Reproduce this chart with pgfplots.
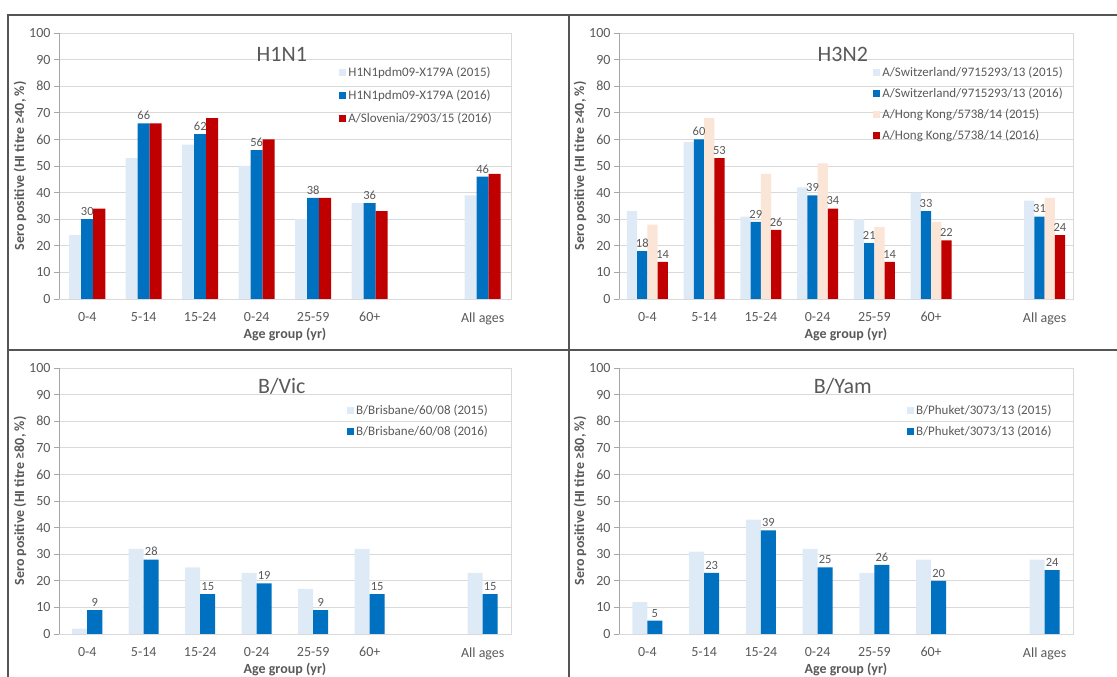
\documentclass[border=0pt]{standalone}
\usepackage{fontspec}
\setmainfont{Carlito}
\usepackage{pgfplots}
\pgfplotsset{compat=1.18}
\definecolor{lb}{HTML}{DEEBF7}
\definecolor{db}{HTML}{0070C0}
\definecolor{rd}{HTML}{C00000}
\definecolor{pc}{HTML}{FBE5D6}
\definecolor{txt}{HTML}{595959}
\definecolor{grd}{HTML}{D9D9D9}
\definecolor{axl}{HTML}{A6A6A6}
\definecolor{frm}{HTML}{555555}
\pgfplotsset{panel/.style={
  scale only axis, height=266pt, anchor=south west,
  ybar=0pt, xmin=-0.5, xmax=7.5, ymin=0, ymax=100,
  xtick={0,1,2,3,4,5,7}, xticklabels={0-4,5-14,15-24,0-24,25-59,60+,All ages},
  ytick={0,10,...,100}, ymajorgrids, grid style={grd, line width=0.8pt},
  axis line style={grd, line width=0.8pt},
  xtick style={draw=none}, ytick pos=left, tick align=outside,
  ytick style={axl, line width=0.8pt}, major tick length=5pt,
  /pgf/number format/assume math mode=true,
  tick label style={font=\fontsize{14}{14}\selectfont, text=txt},
  xticklabel style={yshift=-5pt},
  xlabel={Age group (yr)},
  xlabel style={font=\bfseries\fontsize{14}{14}\selectfont, text=txt, yshift=3pt},
  ylabel style={font=\bfseries\fontsize{14}{14}\selectfont, text=txt, yshift=-4pt},
  legend cell align=left,
  legend style={draw=none, fill=none, anchor=north west, font=\fontsize{13}{13}\selectfont, text=txt, row sep=5pt, inner sep=0pt},
  legend image code/.code={\fill[##1] (0pt,-3.5pt) rectangle (7pt,3.5pt);},
  nodes near coords style={font=\fontsize{12.5}{12.5}\selectfont, text=txt},
  every axis plot/.append style={draw=none},
  after end axis/.code={\draw[axl,line width=0.9pt] (rel axis cs:0,0) -- (rel axis cs:0,1);},
}}
\begin{document}
\begin{tikzpicture}
\path[use as bounding box] (0,0) rectangle (1117pt,677pt);
\draw[frm, line width=1.3pt] (8pt,0) -- (8pt,662pt) -- (1117pt,662pt);
\draw[frm, line width=1.3pt] (569pt,0) -- (569pt,662pt);
\draw[frm, line width=1.3pt] (8pt,327pt) -- (1117pt,327pt);

% H1N1
\begin{axis}[panel, width=452pt, at={(59pt,378pt)}, bar width=12pt,
  ylabel={Sero positive (HI titre ≥40, \%)},
  legend style={at={(0.62,0.88)}, row sep=8pt}]
\addplot[fill=lb] coordinates {(0,24) (1,53) (2,58) (3,50) (4,30) (5,36) (7,39)};
\addplot[fill=db, nodes near coords] coordinates {(0,30) (1,66) (2,62) (3,56) (4,38) (5,36) (7,46)};
\addplot[fill=rd] coordinates {(0,34) (1,66) (2,68) (3,60) (4,38) (5,33) (7,47)};
\legend{H1N1pdm09-X179A (2015), H1N1pdm09-X179A (2016), A/Slovenia/2903/15 (2016)}
\node[font=\fontsize{22}{22}\selectfont, text=txt] at (rel axis cs:0.493,0.92) {H1N1};
\end{axis}

% H3N2
\begin{axis}[panel, width=454pt, at={(619pt,378pt)}, bar width=10.2pt,
  ylabel={Sero positive (HI titre ≥40, \%)},
  legend style={at={(0.56,0.88)}, row sep=6pt}]
\addplot[fill=lb] coordinates {(0,33) (1,59) (2,31) (3,42) (4,30) (5,40) (7,37)};
\addplot[fill=db, nodes near coords] coordinates {(0,18) (1,60) (2,29) (3,39) (4,21) (5,33) (7,31)};
\addplot[fill=pc] coordinates {(0,28) (1,68) (2,47) (3,51) (4,27) (5,29) (7,38)};
\addplot[fill=rd, nodes near coords] coordinates {(0,14) (1,53) (2,26) (3,34) (4,14) (5,22) (7,24)};
\legend{A/Switzerland/9715293/13 (2015), A/Switzerland/9715293/13 (2016), A/Hong Kong/5738/14 (2015), A/Hong Kong/5738/14 (2016)}
\node[font=\fontsize{22}{22}\selectfont, text=txt] at (rel axis cs:0.493,0.92) {H3N2};
\end{axis}

% B/Vic
\begin{axis}[panel, width=452pt, at={(59pt,43pt)}, bar width=15pt,
  ylabel={Sero positive (HI titre ≥80, \%)},
  legend style={at={(0.637,0.87)}, row sep=6pt}]
\addplot[fill=lb] coordinates {(0,2) (1,32) (2,25) (3,23) (4,17) (5,32) (7,23)};
\addplot[fill=db, nodes near coords] coordinates {(0,9) (1,28) (2,15) (3,19) (4,9) (5,15) (7,15)};
\legend{B/Brisbane/60/08 (2015), B/Brisbane/60/08 (2016)}
\node[font=\fontsize{22}{22}\selectfont, text=txt] at (rel axis cs:0.493,0.93) {B/Vic};
\end{axis}

% B/Yam
\begin{axis}[panel, width=454pt, at={(619pt,43pt)}, bar width=15pt,
  ylabel={Sero positive (HI titre ≥80, \%)},
  legend style={at={(0.634,0.87)}, row sep=6pt}]
\addplot[fill=lb] coordinates {(0,12) (1,31) (2,43) (3,32) (4,23) (5,28) (7,28)};
\addplot[fill=db, nodes near coords] coordinates {(0,5) (1,23) (2,39) (3,25) (4,26) (5,20) (7,24)};
\legend{B/Phuket/3073/13 (2015), B/Phuket/3073/13 (2016)}
\node[font=\fontsize{22}{22}\selectfont, text=txt] at (rel axis cs:0.493,0.93) {B/Yam};
\end{axis}
\end{tikzpicture}
\end{document}
